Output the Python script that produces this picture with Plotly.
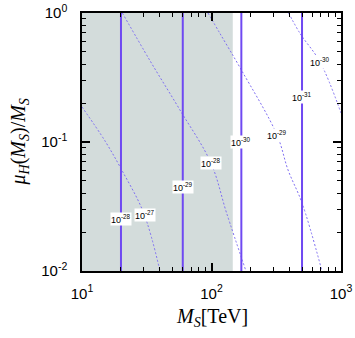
import plotly.graph_objects as go
import math

# ---- data ----
excluded_ms_max = 146.0          # shaded region upper edge in M_S [TeV]
solid_ms = [20, 60, 170, 500]     # vertical solid contours (M_S in TeV)
solid_labels = ["10<sup>-28</sup>", "10<sup>-29</sup>", "10<sup>-30</sup>", "10<sup>-31</sup>"]
solid_label_y = [0.0253, 0.0448, 0.100, 0.223]

c1_x = [10, 15, 20.4, 30, 40]
c1_y = [0.187, 0.1025, 0.060, 0.028, 0.01]
c2_x = [20.5, 33.5, 57.1, 99, 131, 184.5]
c2_y = [1.0, 0.427, 0.177, 0.0687, 0.028, 0.01]
c3_x = [94, 116, 170, 321, 390, 500, 713]
c3_y = [1.0, 0.696, 0.362, 0.113, 0.0607, 0.0337, 0.01]
c4_x = [394, 482, 689, 1000]
c4_y = [1.0, 0.696, 0.417, 0.168]
curves = [(c1_x, c1_y), (c2_x, c2_y), (c3_x, c3_y), (c4_x, c4_y)]
curve_labels = ["10<sup>-27</sup>", "10<sup>-28</sup>", "10<sup>-29</sup>", "10<sup>-30</sup>"]
curve_label_x = [30.6, 99, 321, 689]
curve_label_y = [0.0272, 0.0687, 0.113, 0.417]

x_ticks = [10, 100, 1000]
x_ticktext = ["10<sup>1</sup>", "10<sup>2</sup>", "10<sup>3</sup>"]
y_ticks = [0.01, 0.1, 1]
y_ticktext = ["10<sup>-2</sup>", "10<sup>-1</sup>", "10<sup>0</sup>"]
x_minor = [m * d for d in (10, 100) for m in range(2, 10)]
y_minor = [m * d for d in (0.01, 0.1) for m in range(2, 10)]

SOLID = "#6f49f2"
DASH = "#7f6ff2"
SHADE = "#d3dcdb"

fig = go.Figure()

# shaded excluded region
fig.add_trace(go.Scatter(
    x=[x_ticks[0], excluded_ms_max, excluded_ms_max, x_ticks[0]],
    y=[y_ticks[0], y_ticks[0], y_ticks[-1], y_ticks[-1]],
    fill="toself", fillcolor=SHADE, line=dict(width=0), mode="lines",
    hoverinfo="skip", showlegend=False))

for cx, cy in curves:
    fig.add_trace(go.Scatter(x=cx, y=cy, mode="lines",
                             line=dict(color=DASH, width=1, dash="2px,2px", shape="spline"),
                             showlegend=False))

for xv in solid_ms:
    fig.add_trace(go.Scatter(x=[xv, xv], y=[y_ticks[0], y_ticks[-1]], mode="lines",
                             line=dict(color=SOLID, width=2), showlegend=False))

anns = []
for xv, yv, t in list(zip(solid_ms, solid_label_y, solid_labels)) + \
        list(zip(curve_label_x, curve_label_y, curve_labels)):
    anns.append(dict(x=math.log10(xv), y=math.log10(yv), xref="x", yref="y",
                     text=t, showarrow=False, bgcolor="white", borderpad=0,
                     font=dict(family="Liberation Sans, Arial", size=9, color="black")))

anns.append(dict(x=0.5, y=-0.18, xref="paper", yref="paper", showarrow=False,
                 text="<i>M<sub>S</sub></i>[TeV]", yanchor="middle",
                 font=dict(family="Liberation Serif, Times New Roman", size=20, color="black")))
anns.append(dict(x=-0.245, y=0.5, xref="paper", yref="paper", showarrow=False,
                 text="<i>μ<sub>H</sub></i>(<i>M<sub>S</sub></i>)/<i>M<sub>S</sub></i>",
                 textangle=-90, xanchor="center",
                 font=dict(family="Liberation Serif, Times New Roman", size=20, color="black")))

axis_common = dict(type="log", showline=True, linecolor="black", linewidth=1.5,
                   mirror="allticks", ticks="inside", ticklen=8, tickwidth=1.5,
                   tickcolor="black", showgrid=False, zeroline=False, automargin=False,
                   tickfont=dict(family="Liberation Sans, Arial", size=15, color="black"))

fig.update_layout(
    width=355, height=338,
    margin=dict(l=82, r=14, t=13, b=67, autoexpand=False),
    paper_bgcolor="white", plot_bgcolor="white",
    xaxis=dict(range=[1, 3], tickmode="array", tickvals=x_ticks, ticktext=x_ticktext,
               minor=dict(tickmode="array", tickvals=x_minor, ticks="inside", ticklen=4,
                          tickwidth=1, tickcolor="black", showgrid=False),
               ticklabelstandoff=8, **axis_common),
    yaxis=dict(range=[-2, 0], tickmode="array", tickvals=y_ticks, ticktext=y_ticktext,
               minor=dict(tickmode="array", tickvals=y_minor, ticks="inside", ticklen=4,
                          tickwidth=1, tickcolor="black", showgrid=False),
               ticklabelstandoff=10, **axis_common),
    annotations=anns,
)

fig.write_html("out.html", config={"displayModeBar": False},
               post_script="document.body.style.margin='0px';document.body.style.overflow='hidden';")
